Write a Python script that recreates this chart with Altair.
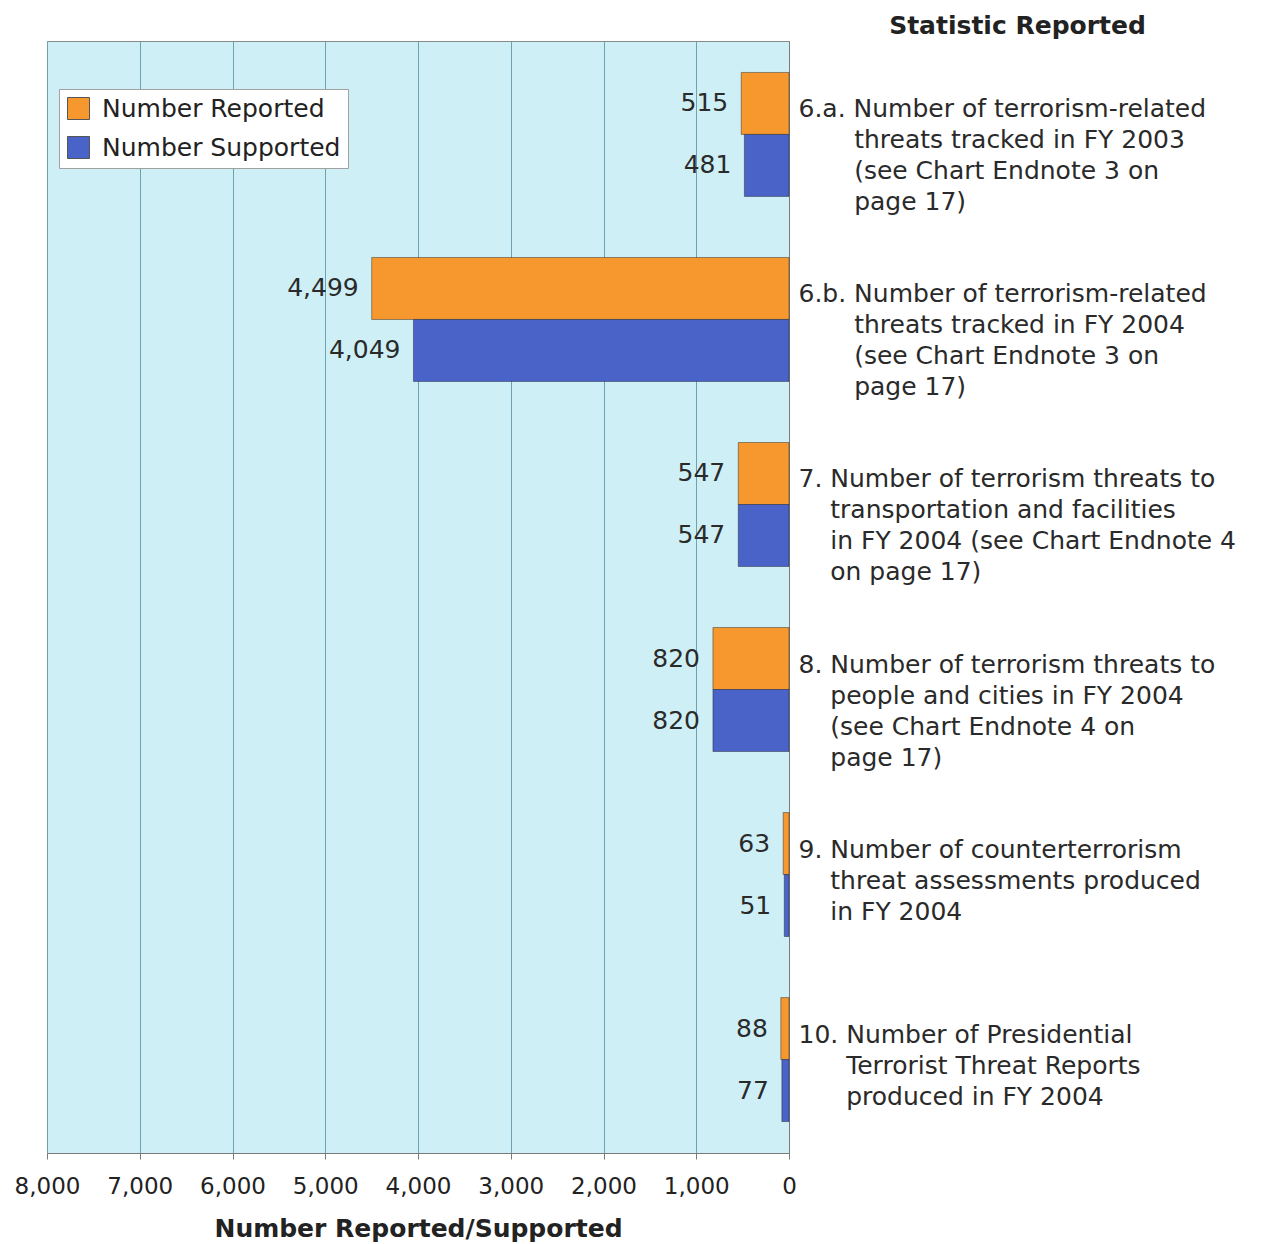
import altair as alt
import pandas as pd

# leading zero-width char keeps the hanging indent from being trimmed
ZW = "\u200b"
NB = "\u00a0"

categories = [
    "6.a. Number of terrorism-related|" + ZW + NB * 7 + "threats tracked in FY 2003|" + ZW + NB * 7 + "(see Chart Endnote 3 on|" + ZW + NB * 7 + "page 17)",
    "6.b. Number of terrorism-related|" + ZW + NB * 7 + "threats tracked in FY 2004|" + ZW + NB * 7 + "(see Chart Endnote 3 on|" + ZW + NB * 7 + "page 17)",
    "7. Number of terrorism threats to|" + ZW + NB * 4 + "transportation and facilities|" + ZW + NB * 4 + "in FY 2004 (see Chart Endnote 4|" + ZW + NB * 4 + "on page 17)",
    "8. Number of terrorism threats to|" + ZW + NB * 4 + "people and cities in FY 2004|" + ZW + NB * 4 + "(see Chart Endnote 4 on|" + ZW + NB * 4 + "page 17)",
    "9. Number of counterterrorism|" + ZW + NB * 4 + "threat assessments produced|" + ZW + NB * 4 + "in FY 2004",
    "10. Number of Presidential|" + ZW + NB * 6 + "Terrorist Threat Reports|" + ZW + NB * 6 + "produced in FY 2004",
]
reported = [515, 4499, 547, 820, 63, 88]
supported = [481, 4049, 547, 820, 51, 77]
series = ["Number Reported", "Number Supported"]
tick_values = [0, 1000, 2000, 3000, 4000, 5000, 6000, 7000, 8000]

rows = []
for c, r, s in zip(categories, reported, supported):
    rows.append({"cat": c, "series": series[0], "value": r})
    rows.append({"cat": c, "series": series[1], "value": s})
df = pd.DataFrame(rows)

FONT = "DejaVu Sans"
ORANGE = "#F7982F"
BLUE = "#4A63C9"

y_enc = alt.Y(
    "cat:N",
    sort=categories,
    scale=alt.Scale(paddingInner=0.33, paddingOuter=0.17),
    axis=alt.Axis(
        orient="right",
        title="Statistic Reported",
        titleAngle=0,
        titleX=228,
        titleY=-16,
        titleAlign="center",
        titleBaseline="middle",
        titleFontSize=25,
        titleFontWeight="bold",
        titleFont=FONT,
        titleColor="#222222",
        domain=True,
        domainColor="#7a7a7a",
        ticks=False,
        labelPadding=9,
        labelFont=FONT,
        labelFontSize=25,
        labelColor="#2a2a2a",
        labelLineHeight=31,
        labelBaseline="top",
        labelAlign="left",
        labelOffset=-37,
        labelLimit=1000,
        labelExpr="split(datum.label, '|')",
    ),
)
yoff = alt.YOffset("series:N", sort=series)

x_enc = alt.X(
    "value:Q",
    scale=alt.Scale(domain=[0, 8000], reverse=True, nice=False),
    axis=alt.Axis(
        values=tick_values,
        format=",.0f",
        grid=True,
        gridColor="#6fa2ae",
        gridWidth=1,
        domainColor="#7a7a7a",
        tickColor="#7a7a7a",
        tickSize=6,
        labelPadding=16,
        labelFlush=False,
        labelOverlap=False,
        labelFont=FONT,
        labelFontSize=23,
        labelColor="#222222",
        title="Number Reported/Supported",
        titleFont=FONT,
        titleFontSize=25,
        titleFontWeight="bold",
        titleColor="#222222",
        titlePadding=18,
    ),
)

bars = alt.Chart(df).mark_bar(stroke="#222222", strokeOpacity=0.45, strokeWidth=1).encode(
    y=y_enc,
    yOffset=yoff,
    x=x_enc,
    color=alt.Color(
        "series:N",
        scale=alt.Scale(domain=series, range=[ORANGE, BLUE]),
        legend=alt.Legend(
            orient="none",
            legendX=12,
            legendY=48,
            title=None,
            fillColor="white",
            strokeColor="#a0a0a0",
            padding=7,
            symbolType="square",
            symbolSize=484,
            symbolStrokeColor="#555555",
            symbolStrokeWidth=1,
            labelFont=FONT,
            labelFontSize=25,
            labelColor="#222222",
            labelOffset=11,
            labelLimit=500,
            rowPadding=12,
        ),
    ),
)

labels = alt.Chart(df).mark_text(
    align="right", baseline="middle", dx=-13, font=FONT, fontSize=25, color="#2a2a2a"
).encode(
    y=y_enc,
    yOffset=yoff,
    x=x_enc,
    text=alt.Text("value:Q", format=","),
)

chart = (
    alt.layer(bars, labels)
    .properties(width=742, height=1112, padding={"left": 6, "top": 5, "right": 5, "bottom": 5})
    .configure_view(fill="#CFEFF6", stroke="#8a8a8a")
)

chart.save("out.html", embed_options={"renderer": "svg", "actions": False})
